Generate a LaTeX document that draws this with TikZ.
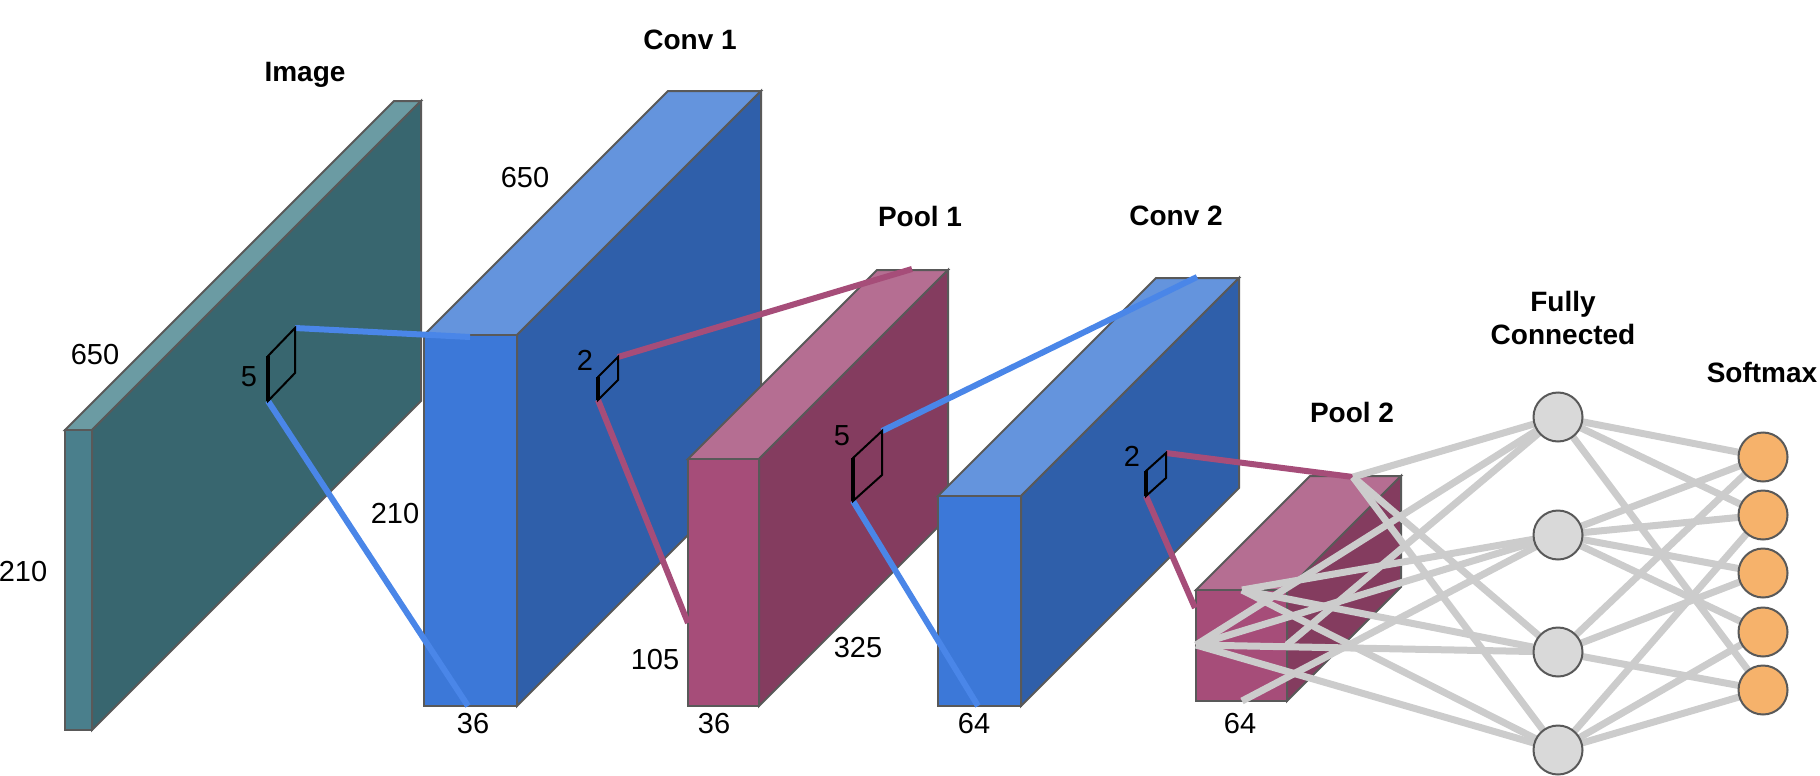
\documentclass[tikz,border=0pt]{standalone}
\usepackage{fontspec}
\setmainfont{Liberation Sans}
\definecolor{imfront}{HTML}{4A7F8C}\definecolor{imtop}{HTML}{6B9BA3}\definecolor{imside}{HTML}{38666F}
\definecolor{cvfront}{HTML}{3C78D8}\definecolor{cvtop}{HTML}{6494DD}\definecolor{cvside}{HTML}{2F5FAA}
\definecolor{plfront}{HTML}{A64D79}\definecolor{pltop}{HTML}{B56E92}\definecolor{plside}{HTML}{843C5F}
\definecolor{edgegray}{HTML}{595959}
\definecolor{bluel}{HTML}{4A86E8}\definecolor{purl}{HTML}{A64D79}
\definecolor{netl}{HTML}{CCCCCC}\definecolor{fcfill}{HTML}{D9D9D9}\definecolor{smfill}{HTML}{F6B26B}
\newcommand\cub[6]{%
 \filldraw[box,fill=#6top] (#1,#3) -- (#2,#3) -- (#2+#5,#3-#5) -- (#1+#5,#3-#5) -- cycle;
 \filldraw[box,fill=#6side] (#2,#3) -- (#2+#5,#3-#5) -- (#2+#5,#4-#5) -- (#2,#4) -- cycle;
 \filldraw[box,fill=#6front] (#1,#3) rectangle (#2,#4);}
\begin{document}
\begin{tikzpicture}[x=1pt,y=-1pt,
 box/.style={draw=edgegray,line width=2pt,line join=miter},
 title/.style={font=\fontsize{28}{33}\selectfont\bfseries,align=center},
 num/.style={font=\fontsize{29}{33}\selectfont},
 bl/.style={bluel,line width=6pt},
 pl/.style={purl,line width=6pt},
 nl/.style={netl,line width=7pt},
 sq/.style={black,line width=2pt,line join=miter},
 fc/.style={circle,draw=edgegray,line width=2pt,fill=fcfill,minimum size=49pt,inner sep=0pt},
 sm/.style={circle,draw=edgegray,line width=2pt,fill=smfill,minimum size=49pt,inner sep=0pt}]
\useasboundingbox (0,0) rectangle (1820,776);
% boxes
\cub{65}{92}{430}{730}{329}{im}
\cub{424}{517}{335}{706}{244}{cv}
\cub{688}{759}{459}{706}{189}{pl}
\cub{938}{1021}{496}{706}{218}{cv}
\cub{1196}{1287}{590}{701}{114}{pl}
% kernel squares corners
\coordinate (s1a) at (268,401); \coordinate (s1b) at (268,356); \coordinate (s1c) at (295,328); \coordinate (s1d) at (295,373);
\coordinate (s2a) at (598,400); \coordinate (s2b) at (598,377); \coordinate (s2c) at (618,357); \coordinate (s2d) at (618,380);
\coordinate (s3a) at (853,501); \coordinate (s3b) at (853,458); \coordinate (s3c) at (882,431); \coordinate (s3d) at (882,475);
\coordinate (s4a) at (1146,496); \coordinate (s4b) at (1146,471); \coordinate (s4c) at (1166,453); \coordinate (s4d) at (1166,478);
% projection targets
\coordinate (t1a) at (470,337); \coordinate (t1b) at (468,706);
\coordinate (t2a) at (912,269); \coordinate (t2b) at (688,623);
\coordinate (t3a) at (1197,277); \coordinate (t3b) at (978,706);
\coordinate (A) at (1353,477); \coordinate (t4b) at (1195,608);
\coordinate (B) at (1242,590); \coordinate (C) at (1196,645); \coordinate (D) at (1287,645); \coordinate (E) at (1242,701);
% FC and softmax nodes (positions)
\path (1558,417) coordinate (f1) (1558,535) coordinate (f2) (1558,652) coordinate (f3) (1558,750) coordinate (f4);
\path (1763,457) coordinate (m1) (1763,515) coordinate (m2) (1763,573) coordinate (m3) (1763,632) coordinate (m4) (1763,690) coordinate (m5);
% projection lines
\draw[bl] (s1c) -- (t1a); \draw[bl] (s1a) -- (t1b);
\draw[pl] (s2c) -- (t2a); \draw[pl] (s2a) -- (t2b);
\draw[bl] (s3c) -- (t3a); \draw[bl] (s3a) -- (t3b);
\draw[pl] (s4c) -- (A); \draw[pl] (s4a) -- (t4b);
% kernel squares
\foreach \s in {s1,s2,s3,s4}{
 \draw[sq] (\s a) -- (\s b) -- (\s c) -- (\s d) -- cycle;
 \draw[black,line width=4pt] (\s a) -- (\s b);}
% network lines
\foreach \a/\b in {A/f1,A/f3,A/f4,B/f2,B/f3,B/f4,C/f1,C/f2,C/f3,C/f4,D/f1,E/f2,
 f1/m1,f1/m2,f1/m5,f2/m1,f2/m2,f2/m3,f2/m4,f3/m1,f3/m3,f3/m5,f4/m2,f4/m4,f4/m5}
 \draw[nl] (\a) -- (\b);
\foreach \i in {1,...,4} \node[fc] (F\i) at (f\i) {};
\foreach \i in {1,...,5} \node[sm] (M\i) at (m\i) {};
% titles
\node[title] (lim) at (305,75) {Image};
\node[title] (lc1) at (690,40) {Conv 1};
\node[title] (lp1) at (920,216) {Pool 1};
\node[title] (lc2) at (1176,216) {Conv 2};
\node[title] (lp2) at (1352,412) {Pool 2};
\node[title] (lfc) at (1563,318) {Fully\\Connected};
\node[title] (lsm) at (1762,372) {Softmax};
% numbers
\node[num] (n1) at (95,355) {650};
\node[num] (n2) at (23,572) {210};
\node[num] (n3) at (249,377) {5};
\node[num] (n4) at (525,178) {650};
\node[num] (n5) at (395,514) {210};
\node[num] (n6) at (585,360) {2};
\node[num] (n7) at (473,724) {36};
\node[num] (n8) at (655,660) {105};
\node[num] (n9) at (714,724) {36};
\node[num] (n10) at (858,648) {325};
\node[num] (n11) at (842,436) {5};
\node[num] (n12) at (974,724) {64};
\node[num] (n13) at (1132,456) {2};
\node[num] (n14) at (1240,724) {64};
\end{tikzpicture}
\end{document}
